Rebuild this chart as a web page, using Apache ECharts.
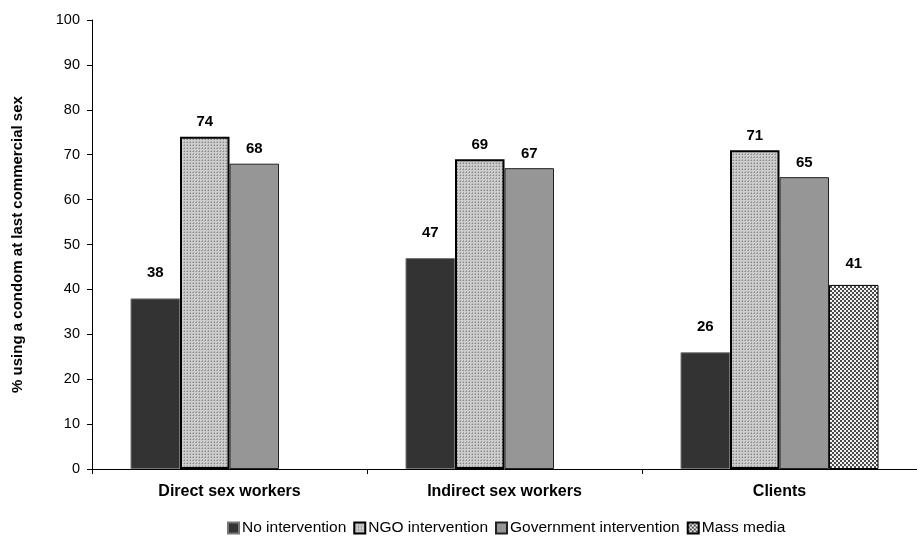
<!DOCTYPE html>
<html>
<head>
<meta charset="utf-8">
<script src="https://cdn.jsdelivr.net/npm/echarts@6/dist/echarts.min.js"></script>
<style>
  html, body { margin: 0; padding: 0; background: #fff; }
  #chart { width: 917px; height: 536px; }
</style>
</head>
<body>
<div id="chart"></div>
<script>
// Condom use at last commercial sex, by group and intervention type
const categories = ['Direct sex workers', 'Indirect sex workers', 'Clients'];
const seriesNames = ['No intervention', 'NGO intervention', 'Government intervention', 'Mass media'];
const noIntervention = [38, 47, 26];
const ngoIntervention = [74, 69, 71];
const govIntervention = [68, 67, 65];
const massMedia = ['-', '-', 41];
const yTicks = [0, 10, 20, 30, 40, 50, 60, 70, 80, 90, 100];

// Small repeating fills for the textured bars
function makePattern(size, draw) {
  const c = document.createElement('canvas');
  c.width = size; c.height = size;
  const ctx = c.getContext('2d');
  draw(ctx);
  return { image: c, repeat: 'repeat' };
}
const dottedFill = makePattern(3, ctx => {
  ctx.fillStyle = '#cdcdcd'; ctx.fillRect(0, 0, 3, 3);
  ctx.fillStyle = '#8a8a8a'; ctx.fillRect(1, 1, 1, 1);
  ctx.fillStyle = '#ababab'; ctx.fillRect(0, 1, 1, 1); ctx.fillRect(1, 0, 1, 1);
});
const checkerFill = makePattern(4, ctx => {
  ctx.fillStyle = '#f2f2f2'; ctx.fillRect(0, 0, 4, 4);
  ctx.fillStyle = '#4a4a4a';
  ctx.fillRect(0, 0, 2, 2);
  ctx.fillRect(2, 2, 2, 2);
});

const FONT = 'Liberation Sans, Arial, sans-serif';
const labelBase = { show: true, position: 'top', fontFamily: FONT,
  fontWeight: 'bold', fontSize: 15, color: '#000' };

const chart = echarts.init(document.getElementById('chart'), null, { renderer: 'canvas' });
chart.setOption({
  animation: false,
  textStyle: { fontFamily: FONT },
  grid: { left: 92, top: 20, width: 834, height: 449, containLabel: false },
  legend: {
    data: seriesNames,
    left: 222, top: 515,
    itemWidth: 11, itemHeight: 11, itemGap: 7,
    textStyle: { fontSize: 15.5, color: '#000', padding: [0, 0, 0, -2] },
    icon: 'rect'
  },
  xAxis: {
    type: 'category',
    data: categories,
    axisLine: { lineStyle: { color: '#000', width: 1 } },
    axisTick: { show: true, length: 5, lineStyle: { color: '#000' } },
    axisLabel: { fontWeight: 'bold', fontSize: 16, color: '#000', margin: 15 }
  },
  yAxis: {
    type: 'value',
    min: yTicks[0], max: yTicks[yTicks.length - 1], interval: 10,
    name: '% using a condom at last commercial sex',
    nameLocation: 'middle', nameGap: 67,
    nameTextStyle: { fontWeight: 'bold', fontSize: 15, color: '#000' },
    axisLine: { show: true, lineStyle: { color: '#000', width: 1 } },
    axisTick: { show: true, length: 5, lineStyle: { color: '#000' } },
    axisLabel: { fontSize: 14.5, color: '#000', margin: 12 },
    splitLine: { show: false }
  },
  series: [
    {
      name: seriesNames[0], type: 'bar', data: noIntervention,
      barGap: '0%', barCategoryGap: '28%',
      itemStyle: { color: '#333333', borderColor: '#777', borderWidth: 1 },
      label: Object.assign({}, labelBase, { distance: 18 })
    },
    {
      name: seriesNames[1], type: 'bar', data: ngoIntervention,
      itemStyle: { color: dottedFill, borderColor: '#000', borderWidth: 2 },
      label: Object.assign({}, labelBase, { distance: 7 })
    },
    {
      name: seriesNames[2], type: 'bar', data: govIntervention,
      itemStyle: { color: '#969696', borderColor: '#222', borderWidth: 1 },
      label: Object.assign({}, labelBase, { distance: 7 })
    },
    {
      name: seriesNames[3], type: 'bar', data: massMedia,
      itemStyle: { color: checkerFill, borderColor: '#000', borderWidth: 1 },
      label: Object.assign({}, labelBase, { distance: 14 })
    }
  ]
});
</script>
</body>
</html>
